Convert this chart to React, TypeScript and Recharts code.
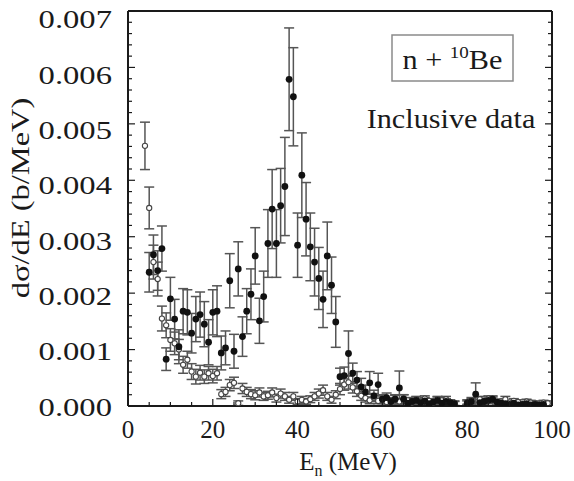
import React from 'react';
import { ScatterChart, Scatter, XAxis, YAxis, ErrorBar } from 'recharts';

// Inclusive neutron spectrum, n + 10Be (filled: full data, open: second data set)
const filledEnergy = [5, 6, 7, 8, 9, 10, 11, 12, 13, 14, 15, 16, 17, 18, 19, 20, 21, 22, 23, 24, 25, 26, 27, 28, 29, 30, 31, 32, 33, 34, 35, 36, 37, 38, 39, 40, 41, 42, 43, 44, 45, 46, 47, 48, 49, 50, 51, 52, 53, 54, 55, 56, 57, 58, 59, 60, 61, 62, 63, 64, 65, 66, 67, 68, 69, 70, 71, 72, 73, 74, 75, 76, 77, 80, 81, 82, 83, 84, 85, 86, 87, 88, 89, 90, 91, 92, 93, 94, 95, 96, 97, 98];
const filledSigma = [0.00237, 0.00268, 0.0024, 0.00279, 0.00083, 0.0019, 0.00154, 0.00105, 0.00168, 0.00166, 0.00129, 0.00154, 0.00162, 0.00145, 0.00113, 0.00166, 0.00168, 0.00094, 0.00103, 0.00222, 0.00097, 0.00243, 0.00123, 0.00168, 0.00198, 0.00266, 0.00151, 0.00194, 0.00288, 0.00349, 0.00288, 0.00355, 0.00389, 0.00579, 0.00548, 0.00285, 0.00409, 0.00331, 0.00282, 0.00255, 0.00226, 0.00189, 0.00266, 0.00214, 0.00149, 0.00052, 0.00054, 0.00093, 0.00058, 0.00046, 0.00034, 0.00025, 0.00041, 0.00018, 0.00038, 0.00012, 0.00015, 0.00008, 0.00012, 0.00032, 0.00012, 0.00005, 0.00008, 0.0001, 0.00006, 0.00009, 0.00004, 0.00007, 0.0001, 0.00005, 0.00008, 0.00006, 0.00004, 0.00005, 0.00008, 0.00021, 0.00006, 0.00008, 0.0001, 0.00012, 0.00007, 0.00005, 0.00004, 0.00003, 0.00005, 0.00002, 0.00003, 0.00004, 0.00002, 0.00003, 0.00002, 0.00003];
const filledError = [0.00035, 0.00035, 0.00035, 0.0004, 0.0002, 0.00038, 0.00035, 0.0003, 0.0004, 0.0004, 0.00035, 0.0004, 0.0004, 0.0004, 0.0004, 0.0004, 0.00045, 0.0003, 0.0003, 0.00048, 0.0003, 0.00048, 0.00035, 0.0004, 0.00045, 0.0005, 0.0004, 0.00045, 0.0006, 0.0007, 0.0006, 0.00066, 0.00087, 0.00091, 0.00087, 0.00057, 0.00075, 0.00065, 0.0006, 0.0006, 0.00055, 0.0005, 0.0006, 0.0005, 0.00045, 0.00015, 0.00015, 0.0004, 0.00018, 0.00015, 0.00015, 0.00012, 0.0002, 0.0001, 0.0002, 0.00008, 0.00008, 0.00006, 0.00008, 0.0003, 0.00008, 0.00005, 0.00005, 0.00006, 0.00005, 0.00006, 0.00004, 0.00005, 0.00006, 0.00004, 0.00005, 0.00004, 0.00004, 0.00004, 0.00005, 0.0002, 0.00005, 0.00005, 0.00006, 0.00006, 0.00005, 0.00004, 0.00004, 0.00003, 0.00004, 0.00002, 0.00003, 0.00003, 0.00002, 0.00003, 0.00002, 0.00003];

const openEnergy = [4, 5, 6, 7, 8, 9, 10, 11, 12, 13, 14, 15, 16, 17, 18, 19, 20, 21, 22, 23, 24, 25, 26, 27, 28, 29, 30, 31, 32, 33, 34, 35, 36, 37, 38, 39, 40, 41, 42, 43, 44, 45, 46, 47, 48, 49, 50, 51, 52, 53, 54, 55, 56, 57, 58, 59, 60, 61, 62, 63, 64, 65, 66, 67, 68, 69, 70, 71, 72, 73, 74, 75, 76, 77, 80, 81, 83, 84, 85, 86, 88, 89, 90, 91, 92, 94, 95, 96, 98, 99];
const openSigma = [0.00461, 0.00351, 0.00255, 0.00225, 0.00155, 0.00143, 0.00117, 0.00111, 0.001, 0.00073, 0.00082, 0.00061, 0.00052, 0.00059, 0.00052, 0.00058, 0.00053, 0.00058, 0.00021, 0.00025, 0.00037, 0.00041, 0.00005, 0.00031, 0.00025, 0.00021, 0.00019, 0.00024, 0.00017, 0.00019, 0.00024, 0.00014, 0.00022, 0.00017, 0.00011, 0.00017, 0.00008, 0.00011, 0.00008, 0.00012, 0.00017, 0.00022, 0.00028, 0.00017, 0.00011, 0.0002, 0.0003, 0.00038, 0.00042, 0.00033, 0.00026, 0.00018, 0.00014, 0.0001, 0.00015, 0.00009, 0.00012, 0.00007, 0.0001, 0.00013, 0.00008, 0.00014, 0.0001, 0.00006, 0.00012, 0.00008, 0.00013, 0.00009, 0.00006, 0.00012, 0.0001, 0.00012, 0.00007, 0.00005, 0.00007, 0.0001, 0.00012, 0.00009, 0.00013, 0.00011, 0.00008, 0.00012, 0.00006, 0.00009, 0.00007, 0.00008, 0.00006, 0.00005, 0.00006, 0.00005];
const openError = [0.00042, 0.00037, 0.0003, 0.0003, 0.00022, 0.00022, 0.0002, 0.0002, 0.00018, 0.00015, 0.00015, 0.00014, 0.00013, 0.00013, 0.00012, 0.00012, 0.00012, 0.00012, 0.00008, 0.00008, 0.0001, 0.0001, 0.00004, 0.00009, 0.00008, 0.00008, 0.00008, 0.00008, 0.00007, 0.00007, 0.00008, 0.00007, 0.00008, 0.00007, 0.00006, 0.00007, 0.00005, 0.00006, 0.00005, 0.00006, 0.00007, 0.00008, 0.00009, 0.00007, 0.00006, 0.00007, 0.0001, 0.0001, 0.00012, 0.0001, 0.00009, 0.00008, 0.00007, 0.00006, 0.00007, 0.00005, 0.00006, 0.00005, 0.00005, 0.00006, 0.00005, 0.00006, 0.00005, 0.00004, 0.00005, 0.00004, 0.00005, 0.00004, 0.00004, 0.00005, 0.00005, 0.00005, 0.00004, 0.00004, 0.00004, 0.00005, 0.00005, 0.00004, 0.00005, 0.00005, 0.00004, 0.00005, 0.00004, 0.00004, 0.00004, 0.00004, 0.00004, 0.00004, 0.00004, 0.00004];

const xTicks = [0, 5, 10, 15, 20, 25, 30, 35, 40, 45, 50, 55, 60, 65, 70, 75, 80, 85, 90, 95, 100];
const xMajorLabels = ['0', '20', '40', '60', '80', '100'];
const yMajorLabels = ['0.000', '0.001', '0.002', '0.003', '0.004', '0.005', '0.006', '0.007'];
// minor ticks every 0.0002 b/MeV
const yTicks: number[] = [];
for (let i = 0; i <= 35; i++) yTicks.push(Number((i * 0.0002).toFixed(4)));

const filledData = filledEnergy.map((e, i) => ({ e, v: filledSigma[i], err: filledError[i] }));
const openData = openEnergy.map((e, i) => ({ e, v: openSigma[i], err: openError[i] }));

const W = 574;
const H = 481;
const M = { top: 10, right: 21, bottom: 74, left: 127 };
const FONT = '"Liberation Serif", "Times New Roman", serif';
const INK = '#1a1a1a';

const majorIndexY = (v: number) => {
  const k = v / 0.001;
  return Math.abs(k - Math.round(k)) < 1e-6 ? Math.round(k) : -1;
};

const BottomTick = (p: any) => {
  const v = p.payload.value;
  const major = v % 20 === 0;
  return (
    <g>
      <line x1={p.x} x2={p.x} y1={p.y} y2={p.y - (major ? 7 : 4)} stroke={INK} strokeWidth={1.2} />
      {major && (
        <text x={p.x} y={p.y + 32} textAnchor="middle" fontFamily={FONT} fontSize={25} fill={INK}>
          {xMajorLabels[v / 20]}
        </text>
      )}
    </g>
  );
};

const TopTick = (p: any) => {
  const major = p.payload.value % 20 === 0;
  return <line x1={p.x} x2={p.x} y1={p.y} y2={p.y + (major ? 7 : 4)} stroke={INK} strokeWidth={1.2} />;
};

const LeftTick = (p: any) => {
  const v = p.payload.value;
  const k = majorIndexY(v);
  const major = k >= 0;
  const dy = 1 + 1.13 * (v * 1000);
  return (
    <g>
      <line x1={p.x} x2={p.x + (major ? 7 : 4)} y1={p.y} y2={p.y} stroke={INK} strokeWidth={1.2} />
      {major && (
        <g transform={`translate(${p.x - 16},${p.y + dy + 8.5}) scale(1.28,1)`}>
          <text x={0} y={0} textAnchor="end" fontFamily={FONT} fontSize={25.5} fill={INK}>
            {yMajorLabels[k]}
          </text>
        </g>
      )}
    </g>
  );
};

const RightTick = (p: any) => {
  const major = majorIndexY(p.payload.value) >= 0;
  return <line x1={p.x} x2={p.x - (major ? 7 : 4)} y1={p.y} y2={p.y} stroke={INK} strokeWidth={1.2} />;
};

const FilledDot = (p: any) => <circle cx={p.cx} cy={p.cy} r={3.4} fill="#111" />;
const OpenDot = (p: any) => (
  <circle cx={p.cx} cy={p.cy} r={2.6} fill="#fff" stroke="#444" strokeWidth={1.1} />
);

const frame = { stroke: INK, strokeWidth: 2 };

export default function App() {
  return (
    <div style={{ position: 'absolute', left: 0, top: 0, width: W, height: H, background: '#fff' }}>
      <ScatterChart width={W} height={H} margin={M}>
        <XAxis
          xAxisId={0}
          type="number"
          dataKey="e"
          domain={[0, 100]}
          ticks={xTicks}
          interval={0}
          height={1}
          tickSize={0}
          tickMargin={0}
          axisLine={frame}
          tick={<BottomTick />}
          allowDataOverflow
        />
        <XAxis
          xAxisId="top"
          orientation="top"
          type="number"
          domain={[0, 100]}
          ticks={xTicks}
          interval={0}
          height={1}
          tickSize={0}
          tickMargin={0}
          axisLine={frame}
          tick={<TopTick />}
          allowDataOverflow
        />
        <YAxis
          yAxisId={0}
          type="number"
          dataKey="v"
          domain={[0, 0.007]}
          ticks={yTicks}
          interval={0}
          width={1}
          tickSize={0}
          tickMargin={0}
          axisLine={frame}
          tick={<LeftTick />}
          allowDataOverflow
        />
        <YAxis
          yAxisId="right"
          orientation="right"
          type="number"
          domain={[0, 0.007]}
          ticks={yTicks}
          interval={0}
          width={1}
          tickSize={0}
          tickMargin={0}
          axisLine={frame}
          tick={<RightTick />}
          allowDataOverflow
        />
        <Scatter data={openData} shape={<OpenDot />} isAnimationActive={false}>
          <ErrorBar dataKey="err" direction="y" width={5} stroke="#555" strokeWidth={1.5} isAnimationActive={false} />
        </Scatter>
        <Scatter data={filledData} shape={<FilledDot />} isAnimationActive={false}>
          <ErrorBar dataKey="err" direction="y" width={5} stroke="#555" strokeWidth={1.5} isAnimationActive={false} />
        </Scatter>
      </ScatterChart>
      <svg
        width={W}
        height={H}
        style={{ position: 'absolute', left: 0, top: 0, pointerEvents: 'none' }}
        fontFamily={FONT}
        fill={INK}
      >
        <g transform="translate(29,198) rotate(-90) scale(1.3,1)">
          <text x={0} y={0} textAnchor="middle" fontSize={25}>
            dσ/dE (b/MeV)
          </text>
        </g>
        <text x={348} y={470} textAnchor="middle" fontSize={25}>
          E<tspan fontSize={16} dy={6}>n</tspan>
          <tspan dy={-6}> (MeV)</tspan>
        </text>
        <rect x={392} y={35} width={121} height={46} fill="#fff" stroke="#8a8a8a" strokeWidth={1.5} />
        <g transform="translate(452.5,69) scale(1.12,1)">
          <text x={0} y={0} textAnchor="middle" fontSize={27}>
            n + <tspan fontSize={17} dy={-11}>10</tspan>
            <tspan dy={11}>Be</tspan>
          </text>
        </g>
        <g transform="translate(451,128) scale(1.12,1)">
          <text x={0} y={0} textAnchor="middle" fontSize={27}>
            Inclusive data
          </text>
        </g>
      </svg>
    </div>
  );
}
